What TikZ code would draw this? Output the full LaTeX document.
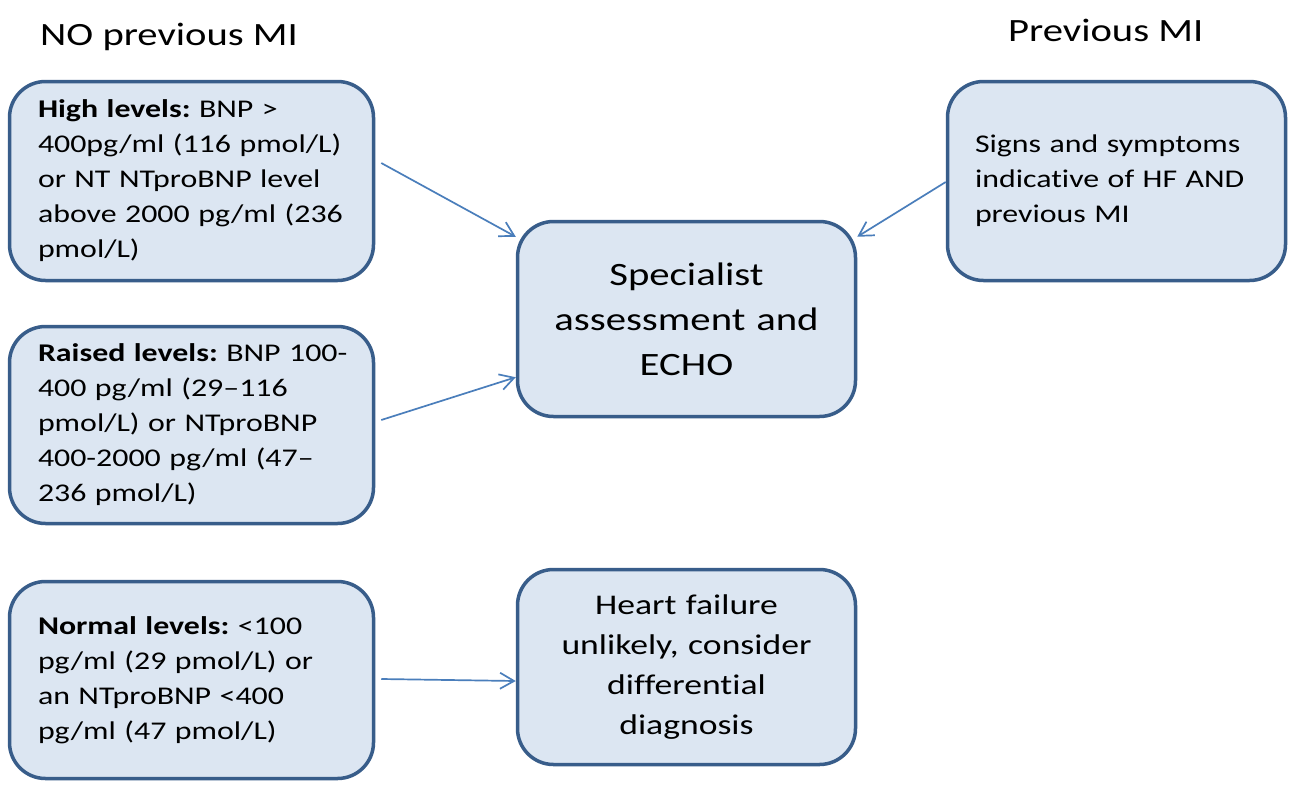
\documentclass[tikz,border=0pt]{standalone}
\usepackage{fontspec}
\setmainfont{Carlito}[FakeStretch=1.25,Ligatures=NoCommon]
\usetikzlibrary{arrows.meta,calc}
\definecolor{boxfill}{HTML}{DCE6F2}
\definecolor{boxline}{HTML}{385D8A}
\definecolor{arrowcol}{HTML}{4A7EBB}
\frenchspacing
\begin{document}
\begin{tikzpicture}[x=1pt,y=-1pt,
  box/.style={draw=boxline, line width=3.5pt, fill=boxfill, rounded corners=36pt, inner ysep=0pt},
  lbox/.style={box, align=left, inner xsep=28.5pt, text width=307pt, minimum width=364pt,
    font=\fontsize{25.5}{35}\selectfont},
  pbox/.style={box, align=left, inner xsep=27.5pt, text width=283pt, minimum width=338pt, minimum height=199pt,
    font=\fontsize{25.5}{35}\selectfont},
  cbox/.style={box, align=center, inner xsep=10pt, text width=318pt, minimum width=338pt, minimum height=195pt},
  title/.style={anchor=base west, inner sep=0pt, font=\fontsize{32.5}{39}\selectfont},
  arr/.style={draw=arrowcol, line width=1.7pt, -{Straight Barb[length=14pt,width=16pt]}}]
\useasboundingbox (0,0) rectangle (1310,804);
\fill[white] (0,0) rectangle (1310,804);

\node[title] (t1) at (40,45) {NO previous MI};
\node[title] (t2) at (1008,41) {Previous MI};

\node[lbox, minimum height=199pt] (hl) at (191.5,181)
  {\mbox{\textbf{High levels:} BNP >}\\\mbox{400pg/ml (116 pmol/L)}\\\mbox{or NT NTproBNP level}\\\mbox{above 2000 pg/ml (236}\\\mbox{pmol/L)}};
\node[lbox, minimum height=197pt] (rl) at (191.5,425)
  {\mbox{\textbf{Raised levels:} BNP 100-}\\\mbox{400 pg/ml (29--116}\\\mbox{pmol/L) or NTproBNP}\\\mbox{400-2000 pg/ml (47--}\\\mbox{236 pmol/L)}};
\node[lbox, minimum height=197pt] (nl) at (191.5,680)
  {\mbox{\textbf{Normal levels:} <100}\\\mbox{pg/ml (29 pmol/L) or}\\\mbox{an NTproBNP <400}\\\mbox{pg/ml (47 pmol/L)}};

\node[cbox, font=\fontsize{32.6}{45}\selectfont] (sa) at (686.5,319)
  {Specialist\\assessment and\\ECHO};
\node[cbox, font=\fontsize{28.5}{40}\selectfont] (hf) at (686.5,667)
  {Heart failure\\unlikely, consider\\differential\\diagnosis};
\node[pbox] (pmi) at (1116.5,181)
  {Signs and symptoms\\indicative of HF AND\\previous MI};

\draw[arr] ($(hl.east)+(6,-18)$) -- ($(sa.north west)+(0,17)$);
\draw[arr] ($(rl.east)+(6,-5)$) -- ($(sa.south west)+(0,-41)$);
\draw[arr] ($(pmi.west)+(0,1)$) -- ($(sa.north east)+(0,17)$);
\draw[arr] ($(nl.east)+(6,-1)$) -- ($(hf.west)+(0,14)$);
\end{tikzpicture}
\end{document}
